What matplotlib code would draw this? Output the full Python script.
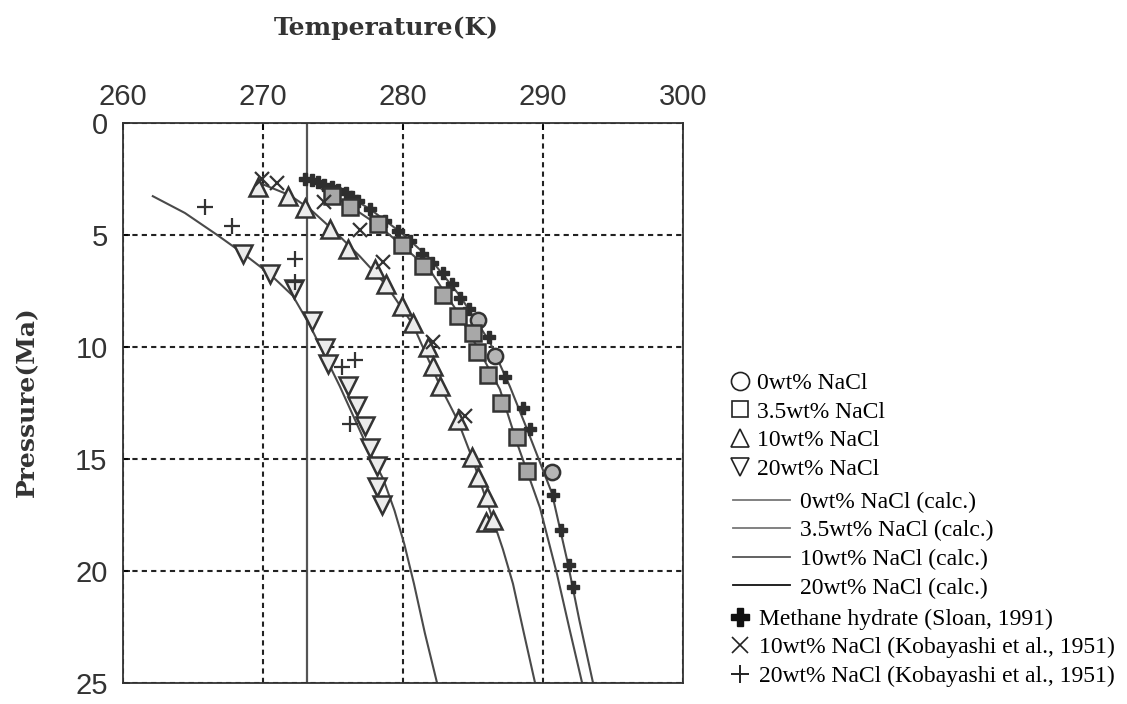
import matplotlib
matplotlib.use('Agg')
import matplotlib.pyplot as plt
from matplotlib.lines import Line2D

# measured points (temperature K, pressure MPa)
t_0wt = [285.36, 286.57, 290.64]
p_0wt = [8.77, 10.40, 15.59]

t_35wt = [274.93, 276.21, 278.21, 279.93, 281.43, 282.86, 283.93, 285.0,
          285.29, 286.07, 287.0, 288.14, 288.86]
p_35wt = [3.26, 3.74, 4.49, 5.46, 6.39, 7.67, 8.59, 9.38,
          10.22, 11.23, 12.51, 14.01, 15.55]

t_10wt = [269.64, 271.79, 273.0, 274.79, 276.07, 278.0, 278.79, 279.93, 280.71,
          281.79, 282.14, 282.64, 283.93, 284.93, 285.36, 286.0, 285.93, 286.43]
p_10wt = [2.86, 3.26, 3.79, 4.71, 5.64, 6.52, 7.18, 8.15, 8.94,
          10.0, 10.84, 11.72, 13.26, 14.93, 15.81, 16.70, 17.8, 17.71]

t_20wt = [268.57, 270.5, 272.21, 273.5, 274.43, 274.64, 276.07, 276.71,
          277.29, 277.64, 278.14, 278.14, 278.5]
p_20wt = [5.86, 6.74, 7.40, 8.85, 10.04, 10.75, 11.72, 12.64,
          13.52, 14.49, 15.33, 16.26, 17.05]

# calculated curves
tc_0wt = [273.0, 275.5, 277.64, 279.79, 281.93, 284.07, 286.21, 287.64,
          288.86, 290.64, 291.79, 292.6, 293.57]
pc_0wt = [2.47, 3.04, 3.83, 4.85, 6.04, 7.71, 9.78, 11.76,
          13.66, 16.52, 19.69, 22.2, 24.98]

tc_35wt = [274.21, 276.21, 278.21, 279.93, 281.93, 283.93, 285.5, 286.93,
           288.14, 289.79, 291.0, 291.9, 292.79]
pc_35wt = [2.95, 3.70, 4.54, 5.46, 6.56, 8.46, 10.22, 11.89,
           14.27, 17.18, 20.13, 22.6, 24.98]

tc_10wt = [269.64, 271.93, 273.36, 275.29, 276.93, 278.79, 280.71, 282.64,
           283.93, 284.93, 286.43, 287.14, 287.86, 288.64, 289.43]
pc_10wt = [2.64, 3.22, 3.83, 4.93, 5.95, 7.22, 8.99, 11.72,
           13.30, 14.93, 17.71, 19.03, 20.57, 22.78, 24.98]

tc_20wt = [262.14, 264.43, 266.71, 268.57, 270.5, 272.14, 273.36, 275.5,
           277.64, 278.6, 279.4, 280.1, 280.79, 281.57, 282.43]
pc_20wt = [3.26, 4.01, 4.98, 5.81, 6.74, 7.71, 9.03, 11.76,
           14.71, 15.9, 17.3, 18.8, 20.57, 22.78, 24.98]

# Sloan (1991) methane hydrate
t_sloan = [273.0, 273.5, 273.93, 274.4, 274.93, 275.4, 275.93, 276.4, 276.79,
           277.64, 278.71, 279.64, 280.5, 281.36, 282.1, 282.86, 283.5, 284.07,
           284.7, 285.36, 286.14, 287.29, 288.57, 289.07, 290.71, 291.29,
           291.86, 292.14]
p_sloan = [2.51, 2.55, 2.64, 2.75, 2.86, 2.98, 3.13, 3.30, 3.48,
           3.83, 4.36, 4.80, 5.24, 5.86, 6.25, 6.70, 7.20, 7.80,
           8.30, 8.81, 9.56, 11.32, 12.73, 13.66, 16.61, 18.15,
           19.74, 20.70]

# Kobayashi et al. (1951)
t_kob10 = [269.93, 271.0, 274.36, 276.93, 278.57, 282.14, 284.43]
p_kob10 = [2.51, 2.69, 3.52, 4.76, 6.21, 9.78, 13.08]
t_kob20 = [265.86, 267.79, 272.29, 272.29, 275.64, 276.57, 276.21]
p_kob20 = [3.74, 4.58, 6.08, 7.09, 10.88, 10.57, 13.44]

x_ticks = [260, 270, 280, 290, 300]
y_ticks = [0, 5, 10, 15, 20, 25]
t_freeze = 273.15

fig = plt.figure(figsize=(11.27, 7.04), dpi=100)
ax = fig.add_axes([0.109, 0.030, 0.497, 0.795])

line_c = '#4a4a4a'
ax.plot(tc_0wt, pc_0wt, color=line_c, lw=1.5, zorder=2)
ax.plot(tc_35wt, pc_35wt, color=line_c, lw=1.5, zorder=2)
ax.plot(tc_10wt, pc_10wt, color=line_c, lw=1.5, zorder=2)
ax.plot(tc_20wt, pc_20wt, color=line_c, lw=1.5, zorder=2)

ax.axvline(t_freeze, color='#555555', lw=1.6, zorder=1)

ax.plot(t_sloan, p_sloan, 'P', ms=8, color='#2e2e2e', mec='#2e2e2e', ls='none', zorder=3)
ax.plot(t_kob10, p_kob10, 'x', ms=10, color='#333333', mew=1.6, ls='none', zorder=5)
ax.plot(t_kob20, p_kob20, '+', ms=12, color='#333333', mew=1.6, ls='none', zorder=5)

ax.plot(t_0wt, p_0wt, 'o', ms=11, mfc='#b5b5b5', mec='#333333', mew=1.8, ls='none', zorder=4)
ax.plot(t_35wt, p_35wt, 's', ms=11, mfc='#a8a8a8', mec='#333333', mew=1.8, ls='none', zorder=4)
ax.plot(t_10wt, p_10wt, '^', ms=13, mfc='#ececec', mec='#333333', mew=1.8, ls='none', zorder=4)
ax.plot(t_20wt, p_20wt, 'v', ms=13, mfc='#ececec', mec='#333333', mew=1.8, ls='none', zorder=4)

ax.set_xlim(260, 300)
ax.set_ylim(25, 0)
ax.set_xticks(x_ticks)
ax.set_yticks(y_ticks)
ax.xaxis.tick_top()
ax.tick_params(direction='in', length=5, width=1.2, labelsize=21)
ax.tick_params(axis='x', pad=9)
ax.tick_params(axis='y', pad=11)
for lab in ax.get_xticklabels() + ax.get_yticklabels():
    lab.set_family('Liberation Sans')
    lab.set_color('#333333')

ax.grid(True, color='#222222', lw=1.5, ls=(0, (2.5, 2)))
for s in ax.spines.values():
    s.set_linewidth(1.3)
    s.set_color('#333333')

ax.set_xlabel('Temperature(K)', fontsize=18, fontweight='bold', family='DejaVu Serif', color='#333333')
ax.xaxis.set_label_position('top')
ax.xaxis.set_label_coords(0.47, 1.157)
ax.set_ylabel('Pressure(Ma)', fontsize=18, fontweight='bold', family='DejaVu Serif', color='#333333')
ax.yaxis.set_label_coords(-0.150, 0.503)

leg_font = {'family': 'Liberation Serif', 'size': 17}
common = dict(frameon=False, prop=leg_font, borderpad=0, borderaxespad=0,
              labelspacing=0.30, loc='upper left')

h1 = [Line2D([], [], marker='o', ls='none', ms=13, mfc='white', mec='#222222', mew=1.2),
      Line2D([], [], marker='s', ls='none', ms=12, mfc='white', mec='#222222', mew=1.2),
      Line2D([], [], marker='^', ls='none', ms=13, mfc='white', mec='#222222', mew=1.2),
      Line2D([], [], marker='v', ls='none', ms=13, mfc='white', mec='#222222', mew=1.2)]
l1 = ['0wt% NaCl', '3.5wt% NaCl', '10wt% NaCl', '20wt% NaCl']
fig.legend(h1, l1, bbox_to_anchor=(0.648, 0.471), handlelength=0.85,
           handletextpad=0.3, **common)

h2 = [Line2D([], [], color='#777777', lw=1.3),
      Line2D([], [], color='#777777', lw=1.3),
      Line2D([], [], color='#555555', lw=1.3),
      Line2D([], [], color='#111111', lw=1.3)]
l2 = ['0wt% NaCl (calc.)', '3.5wt% NaCl (calc.)', '10wt% NaCl (calc.)', '20wt% NaCl (calc.)']
fig.legend(h2, l2, bbox_to_anchor=(0.650, 0.302), handlelength=2.45,
           handletextpad=0.42, **common)

h3 = [Line2D([], [], marker='P', ls='none', ms=13, color='#111111'),
      Line2D([], [], marker='x', ls='none', ms=11, color='#222222', mew=1.2),
      Line2D([], [], marker='+', ls='none', ms=13, color='#222222', mew=1.4)]
l3 = ['Methane hydrate (Sloan, 1991)', '10wt% NaCl (Kobayashi et al., 1951)',
      '20wt% NaCl (Kobayashi et al., 1951)']
fig.legend(h3, l3, bbox_to_anchor=(0.648, 0.136), handlelength=0.85,
           handletextpad=0.38, **common)

fig.savefig('out.png', dpi=100)
